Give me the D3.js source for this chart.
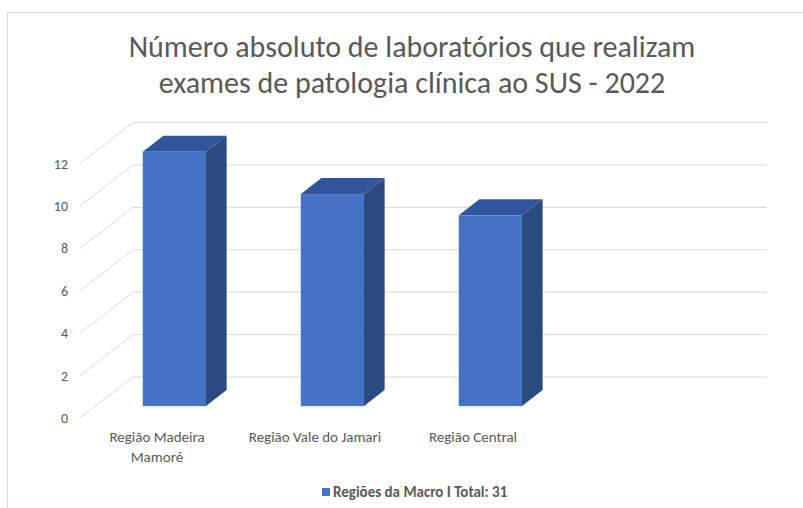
<!DOCTYPE html>
<html>
<head>
<meta charset="utf-8">
<script src="https://cdn.jsdelivr.net/npm/d3@7"></script>
<style>
  body { margin: 0; background: #fff; }
  svg { display: block; font-family: Carlito, Calibri, "Open Sans", sans-serif; }
</style>
</head>
<body>
<div id="chart"></div>
<script>
// data
var categories = ["Região Madeira Mamoré", "Região Vale do Jamari", "Região Central"]
var values = [12, 10, 9]
var yTicks = [0, 2, 4, 6, 8, 10, 12]
var titleLines = ["Número absoluto de laboratórios que realizam", "exames de patologia clínica ao SUS - 2022"]
var legendLabel = "Regiões da Macro I Total: 31"

const W = 803, H = 508
// floor front-left corner and the depth vector of the 3D box
const left = 80, right = 712, bottom = 418
const depth = {dx: 53, dy: -41}
const nSlots = 4          // excel keeps an empty 4th slot on the right
const barFront = 0.29, barBack = 0.68, barWidth = 0.4

var svg = d3.select("#chart").append("svg")
  .attr("width", W)
  .attr("height", H)

// outer chart border (runs off the page right/bottom)
svg.append("rect")
  .attr("x", 7.5).attr("y", 12.5)
  .attr("width", W + 20).attr("height", H + 20)
  .attr("fill", "#fff")
  .attr("stroke", "#d9d9d9")

var x = d3.scaleBand()
  .domain(d3.range(nSlots))
  .range([left, right])

var y = d3.scaleLinear()
  .domain([0, 12])
  .range([bottom, bottom - 254.4])

// side wall diagonals + back wall gridlines
var grid = svg.append("g").attr("stroke", "#d9d9d9").attr("stroke-width", 1).attr("fill", "none")
yTicks.forEach(function(t) {
  var yf = y(t), yb = y(t) + depth.dy
  grid.append("path")
    .attr("d", "M" + left + "," + yf + "L" + (left + depth.dx) + "," + yb + "L" + (right + depth.dx + 2) + "," + yb)
})

// tick labels
svg.append("g")
  .selectAll("text")
  .data(yTicks)
  .enter()
  .append("text")
    .attr("x", 68)
    .attr("y", function(d) { return y(d) })
    .attr("dy", "0.35em")
    .attr("text-anchor", "end")
    .attr("font-size", 14)
    .attr("fill", "#595959")
    .text(function(d) { return d })

// bars
var bw = x.bandwidth() * barWidth
var ddx = depth.dx * (barBack - barFront), ddy = depth.dy * (barBack - barFront)
var bars = svg.append("g")
  .selectAll("g")
  .data(values)
  .enter()
  .append("g")
  .each(function(v, i) {
    var g = d3.select(this)
    var xl = x(i) + (x.bandwidth() - bw) / 2 + depth.dx * barFront
    var xr = xl + bw
    var yb = y(0) + depth.dy * barFront
    var yt = y(v) + depth.dy * barFront
    // side
    g.append("path")
      .attr("d", "M" + xr + "," + yb + "L" + (xr + ddx) + "," + (yb + ddy) +
        "L" + (xr + ddx) + "," + (yt + ddy) + "L" + xr + "," + yt + "Z")
      .attr("fill", "#2a4a80")
    // top
    g.append("path")
      .attr("d", "M" + xl + "," + yt + "L" + xr + "," + yt +
        "L" + (xr + ddx) + "," + (yt + ddy) + "L" + (xl + ddx) + "," + (yt + ddy) + "Z")
      .attr("fill", "#30559a")
    // front
    g.append("rect")
      .attr("x", xl).attr("y", yt)
      .attr("width", bw).attr("height", yb - yt)
      .attr("fill", "#4472c4")
  })

// category labels, wrapped like excel does
var catG = svg.append("g")
categories.forEach(function(c, i) {
  var cx = x(i) + x.bandwidth() / 2 - 2
  var t = catG.append("text")
    .attr("x", cx).attr("y", 442)
    .attr("text-anchor", "middle")
    .attr("font-size", 15)
    .attr("fill", "#595959")
  var words = c.split(" "), line = []
  var tspan = t.append("tspan").attr("x", cx).attr("dy", 0)
  words.forEach(function(w) {
    line.push(w)
    tspan.text(line.join(" "))
    if (tspan.node().getComputedTextLength() > 142 && line.length > 1) {
      line.pop()
      tspan.text(line.join(" "))
      line = [w]
      tspan = t.append("tspan").attr("x", cx).attr("dy", 20).text(w)
    }
  })
})

// title
svg.append("g")
  .selectAll("text")
  .data(titleLines)
  .enter()
  .append("text")
    .attr("x", 412)
    .attr("y", function(d, i) { return 57 + i * 36 })
    .attr("text-anchor", "middle")
    .attr("font-size", 30)
    .attr("fill", "#595959")
    .text(function(d) { return d })

// legend
var leg = svg.append("g").attr("transform", "translate(322,492)")
leg.append("rect")
  .attr("x", 0).attr("y", -4)
  .attr("width", 8).attr("height", 8)
  .attr("fill", "#4472c4")
leg.append("text")
  .attr("x", 11).attr("dy", "0.35em")
  .attr("font-size", 15)
  .attr("font-weight", "bold")
  .attr("fill", "#595959")
  .text(legendLabel)
</script>
</body>
</html>
